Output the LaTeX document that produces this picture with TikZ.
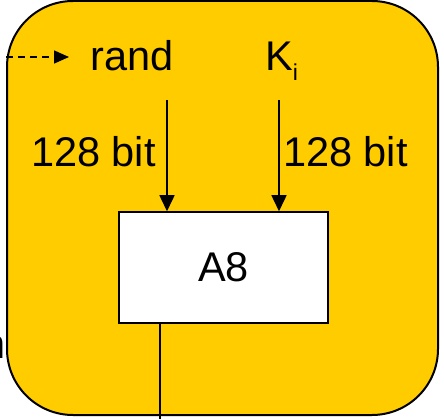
\documentclass[tikz,border=0pt]{standalone}
\usepackage{fontspec}
\setmainfont{Liberation Sans}
\usetikzlibrary{arrows.meta}
\definecolor{gold}{HTML}{FFCC00}
\tikzset{
  lbl/.style={inner sep=0pt, anchor=base west, font=\fontsize{41.5}{48}\selectfont},
  conn/.style={line width=1.5pt, draw=black},
  tip/.style={-{Triangle[width=15pt,length=16pt]}},
}
\begin{document}
\begin{tikzpicture}[x=1pt,y=-1pt]
\useasboundingbox (0,0) rectangle (444,419);
% background panel
\draw[line width=2pt, fill=gold, rounded corners=66pt] (7,1) rectangle (438,415);
% clipped text fragment at left edge
\node[lbl, anchor=base east] (frag) at (5.5,358) {n};
% labels
\node[lbl] (rand) at (90,70.5) {rand};
\node[lbl] (ki) at (265,70.5) {K\raisebox{-10pt}{\fontsize{23}{24}\selectfont i}};
\node[lbl] (bl) at (31,166.5) {128 bit};
\node[lbl] (br) at (283,166.5) {128 bit};
% A8 box
\node[draw, line width=1.5pt, fill=white, minimum width=209pt, minimum height=111pt,
      inner sep=0pt, font=\fontsize{41.5}{48}\selectfont] (a8) at (223.5,267.5) {A8};
% coordinates
\coordinate (din) at (6,57);
\coordinate (dout) at (69,57);
\coordinate (lt) at (167,100);
\coordinate (rt) at (279,100);
\coordinate (out) at (160,425);
% connectors
\draw[conn, dash pattern=on 7pt off 5pt, -{Triangle[width=13pt,length=15pt]}] (din) -- (dout);
\draw[conn, tip] (lt) -- (lt |- a8.north);
\draw[conn, tip] (rt) -- (rt |- a8.north);
\draw[conn] (out |- a8.south) -- (out);
\end{tikzpicture}
\end{document}
